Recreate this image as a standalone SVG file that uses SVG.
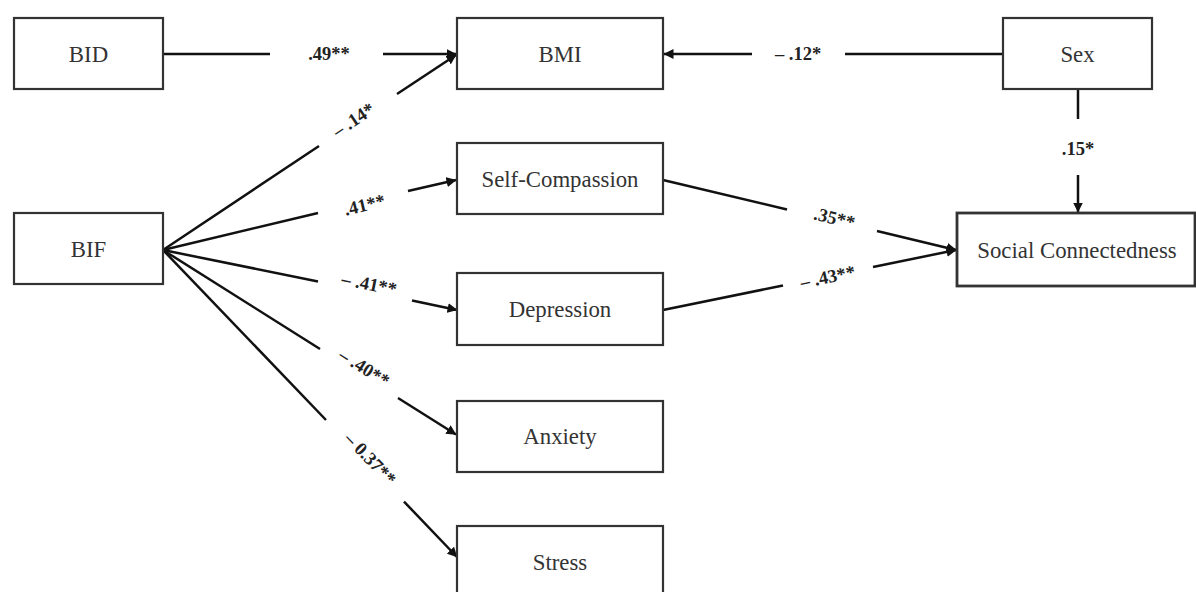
<svg xmlns="http://www.w3.org/2000/svg" width="1196" height="592" viewBox="0 0 1196 592">
<style>
.box{fill:#fff;stroke:#333;stroke-width:2.2}
.nt{font-family:"Liberation Serif","Times New Roman",serif;font-size:22.8px;fill:#333;text-anchor:middle}
.ln{stroke:#111;stroke-width:2.5;fill:none;stroke-linecap:butt}
.lb{font-family:"Liberation Serif","Times New Roman",serif;font-size:18.5px;font-weight:bold;fill:#222;text-anchor:middle}
</style>
<defs>
<marker id="ah" viewBox="0 0 10 10" refX="9.5" refY="5" markerWidth="4" markerHeight="4" orient="auto" markerUnits="strokeWidth">
<path d="M0,0 L10,5 L0,10 Z" fill="#111"/>
</marker>
</defs>
<rect width="1196" height="592" fill="#fff"/>
<g id="connectors">
<g id="e-bid-bmi"><line class="ln" x1="163" y1="54" x2="270" y2="54"/><line class="ln" x1="383" y1="54" x2="456" y2="54" marker-end="url(#ah)"/><text class="lb" x="329" y="60">.49**</text></g>
<g id="e-sex-bmi"><line class="ln" x1="1003" y1="54" x2="845" y2="54"/><line class="ln" x1="752" y1="54" x2="664" y2="54" marker-end="url(#ah)"/><text class="lb" x="798" y="60">– .12*</text></g>
<g id="e-sex-sc"><line class="ln" x1="1078" y1="89" x2="1078" y2="119"/><line class="ln" x1="1078" y1="175" x2="1078" y2="212" marker-end="url(#ah)"/><text class="lb" x="1078" y="155">.15*</text></g>
<g id="e-bif-bmi"><line class="ln" x1="163" y1="250" x2="319" y2="146"/><line class="ln" x1="397" y1="94" x2="456" y2="55" marker-end="url(#ah)"/><text class="lb" transform="translate(357,125) rotate(-33.7)">– .14*</text></g>
<g id="e-bif-scomp"><line class="ln" x1="163" y1="250" x2="318" y2="213"/><line class="ln" x1="408" y1="191" x2="456" y2="180" marker-end="url(#ah)"/><text class="lb" transform="translate(366,211) rotate(-13.4)">.41**</text></g>
<g id="e-bif-dep"><line class="ln" x1="163" y1="250" x2="318" y2="281.5"/><line class="ln" x1="412" y1="300.5" x2="457" y2="310" marker-end="url(#ah)"/><text class="lb" transform="translate(368,290) rotate(11.5)">– .41**</text></g>
<g id="e-bif-anx"><line class="ln" x1="163" y1="250" x2="320" y2="349"/><line class="ln" x1="398" y1="398" x2="456" y2="434.5" marker-end="url(#ah)"/><text class="lb" transform="translate(361,373) rotate(32.2)">– .40**</text></g>
<g id="e-bif-stress"><line class="ln" x1="163" y1="250" x2="326" y2="420"/><line class="ln" x1="404" y1="501.6" x2="457" y2="557" marker-end="url(#ah)"/><text class="lb" transform="translate(366,463) rotate(46.2)">– 0.37**</text></g>
<g id="e-scomp-soc"><line class="ln" x1="663" y1="180" x2="787" y2="209.5"/><line class="ln" x1="877" y1="231" x2="956" y2="250" marker-end="url(#ah)"/><text class="lb" transform="translate(833,224) rotate(13.4)">.35**</text></g>
<g id="e-dep-soc"><line class="ln" x1="663" y1="310" x2="783" y2="285.5"/><line class="ln" x1="873" y1="267" x2="956" y2="250" marker-end="url(#ah)"/><text class="lb" transform="translate(829,283) rotate(-11.5)">– .43**</text></g>
</g>
<g id="n-bid"><rect class="box" x="14" y="18" width="149" height="71"/><text class="nt" x="88.5" y="62">BID</text></g>
<g id="n-bmi"><rect class="box" x="457" y="18" width="206" height="71"/><text class="nt" x="560" y="62">BMI</text></g>
<g id="n-sex"><rect class="box" x="1003" y="18" width="149" height="71"/><text class="nt" x="1077.5" y="62">Sex</text></g>
<g id="n-bif"><rect class="box" x="14" y="213" width="149" height="71"/><text class="nt" x="88.5" y="257">BIF</text></g>
<g id="n-scomp"><rect class="box" x="457" y="143" width="206" height="71"/><text class="nt" x="560" y="187">Self-Compassion</text></g>
<g id="n-dep"><rect class="box" x="457" y="273" width="206" height="72"/><text class="nt" x="560" y="317">Depression</text></g>
<g id="n-anx"><rect class="box" x="457" y="401" width="206" height="71"/><text class="nt" x="560" y="444">Anxiety</text></g>
<g id="n-stress"><rect class="box" x="457" y="526" width="206" height="72"/><text class="nt" x="560" y="570">Stress</text></g>
<g id="n-soc"><rect class="box" x="957" y="213" width="238" height="73" style="stroke-width:2.8"/><text class="nt" x="1077" y="258">Social Connectedness</text></g>
</svg>
